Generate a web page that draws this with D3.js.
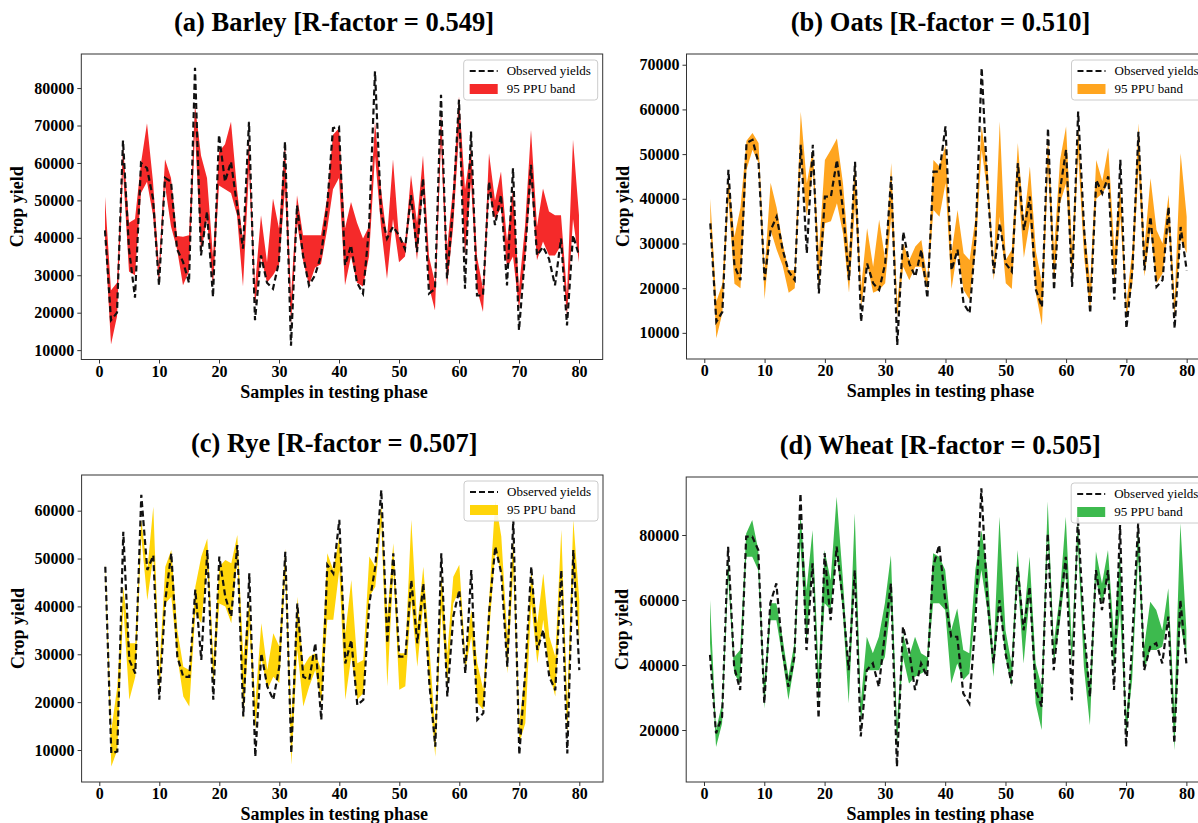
<!DOCTYPE html>
<html>
<head>
<meta charset="utf-8">
<script src="https://cdn.jsdelivr.net/npm/d3@7"></script>
<style>
  body { margin: 0; background: #fff; }
  svg text { font-family: "Liberation Serif", "Times New Roman", serif; }
</style>
</head>
<body>
<svg id="chart" width="1198" height="823"></svg>
<script>
// sample numbers in the testing phase
var samples = d3.range(1, 81);

// (a) barley
var barleyObs = [42000,18000,20000,66000,37000,24000,60000,58600,50500,27300, 56000,55000,37000,33600,28000,85400,35300,47000,24200,67500,
  55000,60300,48700,37100,71000,18000,35300,28000,26400,33600, 65700,11200,48700,35300,27300,30000,35300,47900,69300,69700,
  32700,38000,28000,25100,42500,84500,47000,39800,43000,40700, 37000,51400,36200,55900,25100,26400,78200,29100,47900,76900,
  26400,68400,24600,24600,55000,43400,51400,27300,58600,15300, 35300,59500,35300,37600,34400,27300,39800,16600,40700,35300];
var barleyLo = [40000,11500,19000,58000,31000,30000,52000,55000,46000,27300, 54000,43000,37000,27300,31000,68000,36000,45000,27000,54000,
  53000,52000,46000,27000,58000,22000,35000,28000,30000,32700, 53000,16600,44000,34000,27300,32000,33000,42000,53000,56000,
  27300,35000,28000,27000,35000,62000,43000,29000,45000,33500, 35000,49000,34000,53000,27000,20600,65700,27000,42500,68000,
  35000,55000,26400,20200,52000,45000,48000,32000,35000,21000, 34000,55000,34000,39000,35300,35300,38000,19000,45000,33500];
var barleyHi = [51000,26000,28000,64500,44000,45000,60000,70600,55000,32000, 61000,56000,40500,40300,40700,75500,62000,56000,35000,63000,
  65000,71000,53000,39000,66600,27000,46000,33500,50500,42500, 65700,24000,51400,40700,40700,40700,40700,50500,67500,69300,
  42500,49600,44000,39800,43000,71000,53000,39800,61000,39800, 38500,56800,44000,62000,35000,28000,74000,37000,53000,77800,
  53000,64000,35000,26400,62600,50000,57700,39000,53000,26400, 43000,68800,43000,53200,47000,46000,46000,25000,66200,46000];

// (b) oats
var oatsObs = [34500,12500,14700,46500,25000,21800,52500,53200,48000,21800, 33000,36000,28600,23700,21800,52100,27800,52100,18800,40500,
  40500,48700,37500,21800,48300,12500,25500,21100,19600,25500, 45000,7250,32600,25500,22600,28600,17800,46100,46100,56200,
  24000,28600,16600,14400,31500,69300,42000,23300,34500,25500, 23700,48000,33000,40500,19600,15800,55800,19600,42000,51000,
  20300,59500,33000,14400,44200,41200,45000,17400,48700,11000, 24000,55000,24000,36000,20300,21800,38200,11000,33700,24000];
var oatsLo = [33500,8800,14500,40000,21000,20000,46500,51000,48000,17500, 33000,28600,25000,19000,20000,48700,36000,46500,19600,34500,
  35000,39000,32300,19000,38500,15800,25500,19000,19600,21100, 36000,13600,24800,21800,24800,24800,19600,37500,36000,43500,
  19800,28600,19600,17400,28600,51000,40900,21800,36000,21100, 19800,43500,26800,35000,18800,11700,47000,21100,39000,43500,
  21100,50000,26800,14800,40000,41200,43500,21100,36000,13600, 21100,47000,22600,33000,21100,23300,33500,13600,31000,27800];
var oatsHi = [40000,17000,21000,45000,31500,38000,53000,54700,52500,24000, 43600,38000,30000,24000,24000,59500,43500,51000,28000,48700,
  51000,53500,43500,27000,48300,20000,33400,24800,35300,26300, 48000,16600,30000,26300,29300,30800,22000,48700,47200,52000,
  27800,37500,27800,26300,36000,56200,46500,24800,57300,26300, 28600,52500,34500,47200,28200,21100,54000,28600,48700,56200,
  28600,56200,34500,21100,48700,44000,51400,28600,43500,16600, 28600,56900,29300,44600,33000,30000,40900,17400,50200,36000];

// (c) rye
var ryeObs = [48300,9300,9700,55600,28800,26000,63300,47600,50700,20500, 41300,51100,29500,25300,25300,43500,28800,51800,20500,50400,
  42000,37900,52800,17000,46900,8600,30200,23300,20500,27400, 51400,9300,40600,25300,24700,32300,16300,48700,46900,58100,
  28100,33000,19400,20500,40600,48300,64300,32300,51100,29500, 29500,45500,32300,44800,24000,10700,51100,21200,37900,43400,
  26000,47600,16300,17700,39300,52500,46900,27400,58100,9000, 26700,48300,30900,35100,25300,22500,47600,9300,51800,26700];
var ryeLo = [47600,6550,10000,40000,20500,25300,54600,41300,50400,21200, 40600,42000,29500,21200,19100,38600,36500,49000,23300,40600,
  40000,36500,50400,16300,35800,14200,29500,22600,25300,24000, 47600,6900,30900,19100,23300,26700,19800,37200,37200,47600,
  20500,29500,20500,21900,42000,44100,57400,23300,47600,22600, 23300,41300,27400,40600,23300,8600,39300,23300,40600,43400,
  26700,33700,19800,18400,35100,51800,46900,26000,47600,11400, 15600,40600,28100,37200,26000,21200,45500,12800,47600,32300];
var ryeHi = [49000,14200,23250,44100,32300,32300,58100,47600,60800,26700, 48300,51800,35100,27400,26700,44100,50400,54200,28800,48300,
  49700,49000,54900,29500,41300,19800,36500,26700,34400,31600, 52100,15600,42000,27400,29500,30200,26700,51100,47600,54600,
  34400,45500,28100,28800,50400,48300,61500,37900,53200,30200, 30200,58100,35800,48300,31600,14200,46900,30200,46200,48700,
  29500,39300,28100,22600,42000,62200,54600,33700,53900,15600, 26700,47600,36500,46900,33700,29500,56000,19800,58100,41300];

// (d) wheat
var wheatObs = [43100,19000,24100,76400,39500,32300,79500,79500,75400,28200, 59000,65100,44600,33300,42500,92800,44600,71300,23600,74400,
  53800,76400,60000,38400,69200,18000,38400,40500,33300,49700, 65100,8700,51800,44600,32300,40500,36400,70200,76900,60000,
  48700,48700,31300,28200,52800,94400,60000,40500,60000,43600, 34300,70200,50700,64100,32300,27200,80500,38400,56900,73300,
  29200,85600,51800,30200,69200,56900,69200,32300,83100,14800, 46700,83600,38400,45600,46700,40500,54900,15900,60000,40500];
var wheatLo = [46700,14800,22000,67200,37400,34300,73300,73300,69200,26600, 53800,53800,42500,29200,40500,77400,46700,71300,28200,59000,
  56900,74400,56900,28200,67200,22000,38400,38400,38400,42500, 59000,14800,42500,34300,36400,37400,38400,59000,59000,56900,
  34300,40500,35400,37400,56900,69200,56900,36400,59000,42500, 33300,67200,40500,61000,28200,20000,79500,40500,52800,69200,
  40500,77400,39500,21500,66100,59000,66100,38400,56900,18000, 35400,73300,38400,44600,44600,45600,54900,13800,52800,42500];
var wheatHi = [60000,20000,28200,73300,42500,44600,80500,84600,75400,34300, 59000,59000,48700,36400,46700,86700,63100,81500,38400,75400,
  66100,91800,67200,38400,86700,28200,48700,43600,48700,59000, 73800,22000,49700,42500,48700,43600,42500,74400,73300,69200,
  50700,57400,44600,43600,69200,81500,69200,42500,85600,50700, 40500,75400,52800,73300,40500,33300,90300,46700,61000,85600,
  46700,84600,50700,33300,74900,65100,75400,48700,75400,24100, 42500,83600,45600,59500,56900,50700,63600,26100,83600,50700];

// titles, colours and ticks
var titles = ["(a) Barley [R-factor = 0.549]", "(b) Oats [R-factor = 0.510]",
              "(c) Rye [R-factor = 0.507]", "(d) Wheat [R-factor = 0.505]"];
var bandColors = ["#f52a2a", "#ffa51f", "#ffd50a", "#3dba4e"];
var xTicks = [0, 10, 20, 30, 40, 50, 60, 70, 80];
var yTicksA = [10000, 20000, 30000, 40000, 50000, 60000, 70000, 80000];
var yTicksB = [10000, 20000, 30000, 40000, 50000, 60000, 70000];
var yTicksC = [10000, 20000, 30000, 40000, 50000, 60000];
var yTicksD = [20000, 40000, 60000, 80000];
var legendLabels = ["Observed yields", "95 PPU band"];

// panel layout (axes box in px, y domain like matplotlib auto limits)
var panels = [
  {obs: barleyObs, lo: barleyLo, hi: barleyHi, yTicks: yTicksA, yDomain: [7500, 89100], box: {x: 81.3, y: 54, w: 521.4, h: 305.5}},
  {obs: oatsObs,   lo: oatsLo,   hi: oatsHi,   yTicks: yTicksB, yDomain: [4150, 72400], box: {x: 686.5, y: 54, w: 524, h: 305}},
  {obs: ryeObs,    lo: ryeLo,    hi: ryeHi,    yTicks: yTicksC, yDomain: [3320, 67450], box: {x: 81.6, y: 475, w: 521.4, h: 307}},
  {obs: wheatObs,  lo: wheatLo,  hi: wheatHi,  yTicks: yTicksD, yDomain: [4000, 97850], box: {x: 686.2, y: 477, w: 524, h: 305}}
];

var svg = d3.select("#chart");

panels.forEach(function(p, k) {
  var b = p.box;
  var x = d3.scaleLinear().domain([-2.95, 83.95]).range([b.x, b.x + b.w]);
  var y = d3.scaleLinear().domain(p.yDomain).range([b.y + b.h, b.y]);

  var g = svg.append("g");

  // title
  g.append("text")
    .attr("x", b.x + b.w / 2 - 8)
    .attr("y", b.y - 23)
    .attr("text-anchor", "middle")
    .style("font-size", "26.5px")
    .style("font-weight", "bold")
    .text(titles[k]);

  // band
  var area = d3.area()
    .x(function(d, i) { return x(samples[i]); })
    .y0(function(d, i) { return y(p.lo[i]); })
    .y1(function(d, i) { return y(p.hi[i]); });

  g.append("path")
    .datum(samples)
    .attr("d", area)
    .attr("fill", bandColors[k]);

  // observed
  var line = d3.line()
    .x(function(d, i) { return x(samples[i]); })
    .y(function(d) { return y(d); });

  g.append("path")
    .datum(p.obs)
    .attr("d", line)
    .attr("fill", "none")
    .attr("stroke", "#111")
    .attr("stroke-width", 2.2)
    .attr("stroke-dasharray", "6,3.5");

  // axes
  var xAxis = d3.axisBottom(x).tickValues(xTicks).tickSize(4).tickPadding(2).tickFormat(d3.format("d"));
  var yAxis = d3.axisLeft(y).tickValues(p.yTicks).tickSize(4).tickPadding(3).tickFormat(d3.format("d"));

  var gx = g.append("g").attr("transform", "translate(0," + (b.y + b.h) + ")").call(xAxis);
  var gy = g.append("g").attr("transform", "translate(" + b.x + ",0)").call(yAxis);
  [gx, gy].forEach(function(a) {
    a.select(".domain").remove();
    a.selectAll(".tick line").attr("stroke", "#333");
    a.selectAll(".tick text")
      .style("font-family", "'Liberation Serif', 'Times New Roman', serif")
      .style("font-size", "16px")
      .style("font-weight", "bold")
      .attr("fill", "#000");
  });

  // frame
  g.append("rect")
    .attr("x", b.x).attr("y", b.y)
    .attr("width", b.w).attr("height", b.h)
    .attr("fill", "none")
    .attr("stroke", "#333")
    .attr("stroke-width", 1);

  // axis labels
  g.append("text")
    .attr("x", b.x + b.w / 2 - 8)
    .attr("y", b.y + b.h + 38)
    .attr("text-anchor", "middle")
    .style("font-size", "18px")
    .style("font-weight", "bold")
    .text("Samples in testing phase");

  g.append("text")
    .attr("transform", "translate(" + (b.x - 58) + "," + (b.y + b.h / 2) + ") rotate(-90)")
    .attr("text-anchor", "middle")
    .style("font-size", "18px")
    .style("font-weight", "bold")
    .text("Crop yield");

  // legend
  var lg = g.append("g").attr("transform", "translate(" + (b.x + b.w - 139) + "," + (b.y + 6) + ")");
  lg.append("rect")
    .attr("width", 134).attr("height", 40).attr("rx", 3)
    .attr("fill", "#fff").attr("fill-opacity", 0.85)
    .attr("stroke", "#ccc");
  lg.append("line")
    .attr("x1", 6).attr("x2", 34).attr("y1", 11).attr("y2", 11)
    .attr("stroke", "#111").attr("stroke-width", 2).attr("stroke-dasharray", "6,3");
  lg.append("rect")
    .attr("x", 6).attr("y", 24).attr("width", 28).attr("height", 10)
    .attr("fill", bandColors[k]);
  lg.selectAll("text.lab")
    .data(legendLabels)
    .enter().append("text")
    .attr("class", "lab")
    .attr("x", 43)
    .attr("y", function(d, i) { return 15 + i * 18; })
    .style("font-size", "13px")
    .text(function(d) { return d; });
});
</script>
</body>
</html>
